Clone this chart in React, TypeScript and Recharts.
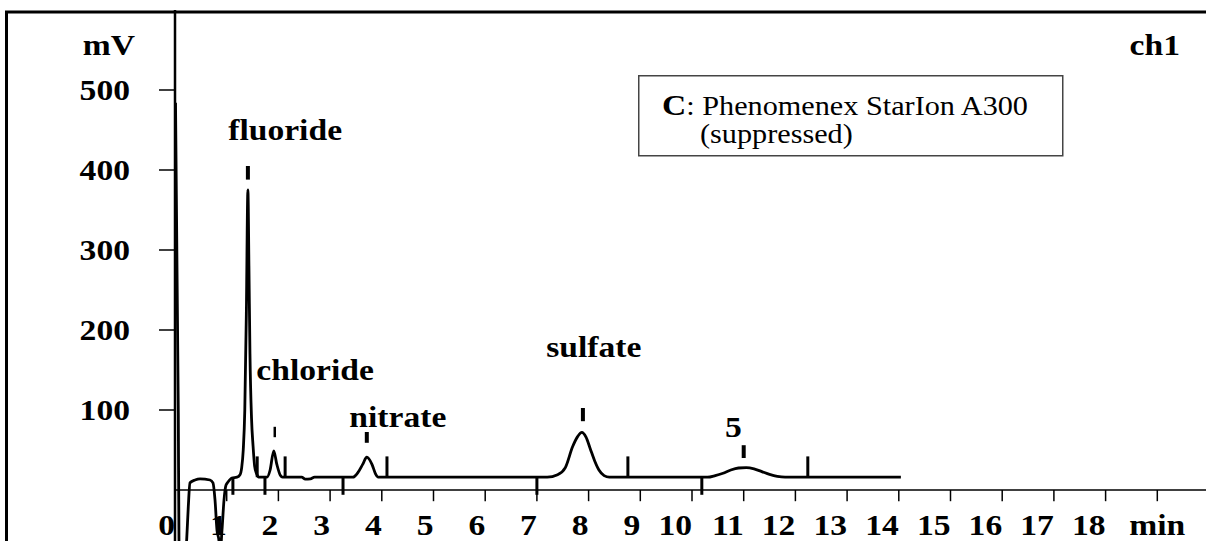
import { LineChart, Line, XAxis, YAxis, ReferenceLine, ReferenceDot } from "recharts";

const FONT = "'Liberation Serif', 'Times New Roman', Times, serif";
const SX = 1.12; // the scanned figure is a bit wider than tall

// ch1 trace: retention time (min) and detector signal (mV)
const times = [
  0.01, 0.064, 0.077, 0.12, 0.18, 0.226, 0.257, 0.29, 0.387, 0.484, 0.677, 0.735, 0.774, 0.812,
  0.851, 0.87, 0.909, 0.948, 0.986, 1.025, 1.1, 1.2, 1.257, 1.29, 1.32, 1.35, 1.38, 1.41, 1.43,
  1.45, 1.48, 1.51, 1.54, 1.58, 1.62, 1.78, 1.84, 1.91, 1.97, 2.04, 2.08, 2.45, 2.52, 2.62, 2.7,
  3.44, 3.54, 3.63, 3.71, 3.81, 3.88, 3.93, 7.2, 7.4, 7.55, 7.69, 7.79, 7.87, 7.95, 8.03, 8.12,
  8.2, 8.3, 8.4, 10.3, 10.45, 10.6, 10.75, 10.9, 11.05, 11.2, 11.35, 11.5, 11.65, 11.8, 14.04,
];
const signal = [
  484, 96, -64, -95, -95, -62, -21, 9, 12.5, 14, 12.5, 9, -12.5, -50, -64, -82, -50, -12.5, 6, 10,
  15, 16, 19, 28, 50, 100, 220, 375, 280, 170, 90, 55, 30, 20, 16, 16, 25, 49, 32, 18, 16, 16, 13.5,
  14, 16, 16, 22, 32, 41, 32, 20, 16, 16, 19, 28, 54, 67, 72, 66, 52, 36, 25, 18, 16, 16, 18, 21,
  25, 27.5, 28, 26.5, 23, 19.5, 17, 16, 16,
];

const xTicks = [0, 1, 2, 3, 4, 5, 6, 7, 8, 9, 10, 11, 12, 13, 14, 15, 16, 17, 18, 19];
const xTickLabels = ["0", "1", "2", "3", "4", "5", "6", "7", "8", "9", "10", "11", "12", "13", "14", "15", "16", "17", "18", "min"];
const yTicks = [100, 200, 300, 400, 500];

// peak annotations
const peakNames = ["fluoride", "chloride", "nitrate", "sulfate", "5"];
const peakTimes = [1.41, 1.93, 3.71, 7.89, 11.0];
const peakMarkTop = [405, 79, 72.5, 102.5, 56];
const peakMarkBottom = [388, 66, 59, 86, 40];
const peakLabelTimes = [2.13, 2.71, 4.31, 8.1, 10.8];
const peakLabelLevels = [437, 137, 79, 166, 66];

// integration start/end marks on the baseline
const cutTimes = [1.12, 1.59, 1.74, 2.13, 3.25, 4.1, 7.0, 8.76, 10.19, 12.24];
const cutEnds = [-6, 42, -6, 42, -6, 42, -6, 42, -6, 42];
const baselineLevel = 16;

const data = times.map((t, i) => ({ t, mv: signal[i] }));

function Stretch({ x, y, anchor, size, bold, children }: any) {
  return (
    <text
      transform={`translate(${x},${y}) scale(${SX},1)`}
      textAnchor={anchor}
      fontFamily={FONT}
      fontSize={size}
      fontWeight={bold ? 700 : 400}
      fill="#000"
    >
      {children}
    </text>
  );
}

function YTick({ x, y, payload }: any) {
  return (
    <Stretch x={x} y={y + 10} anchor="end" size={30} bold>
      {payload.value}
    </Stretch>
  );
}

export default function App() {
  return (
    <div
      style={{
        position: "absolute",
        left: 0,
        top: 0,
        width: 1206,
        height: 541,
        overflow: "hidden",
        background: "#fff",
      }}
    >
      <LineChart
        width={1215}
        height={575}
        data={data}
        margin={{ top: 10, right: 6, bottom: 5, left: 0 }}
      >
        <XAxis type="number" dataKey="t" domain={[0, 20]} hide />
        <YAxis
          type="number"
          domain={[-100, 600]}
          ticks={yTicks}
          width={175}
          tickSize={16}
          tickMargin={29}
          axisLine={{ stroke: "#000", strokeWidth: 2.5 }}
          tickLine={{ stroke: "#000", strokeWidth: 1.5 }}
          tick={<YTick />}
        />

        {/* time axis sits at 0 mV */}
        <ReferenceLine y={0} stroke="#000" strokeWidth={1.5} />
        {xTicks.map((t) => (
          <ReferenceLine
            key={`xt${t}`}
            segment={[{ x: t, y: 0 }, { x: t, y: -14 }]}
            stroke="#000"
            strokeWidth={1.5}
          />
        ))}
        {xTicks.map((t, i) => (
          <ReferenceDot
            key={`xl${t}`}
            x={t}
            y={-56}
            shape={(p: any) => (
              <Stretch
                x={p.cx}
                y={p.cy}
                anchor={xTickLabels[i] === "min" ? "middle" : "end"}
                size={30}
                bold
              >
                {xTickLabels[i]}
              </Stretch>
            )}
          />
        ))}

        {cutTimes.map((t, i) => (
          <ReferenceLine
            key={`c${i}`}
            segment={[{ x: t, y: baselineLevel }, { x: t, y: cutEnds[i] }]}
            stroke="#000"
            strokeWidth={3}
          />
        ))}

        <Line
          type="monotone"
          dataKey="mv"
          stroke="#000"
          strokeWidth={2.8}
          dot={false}
          isAnimationActive={false}
        />

        {peakNames.map((name, i) => (
          <ReferenceLine
            key={`pm${name}`}
            segment={[{ x: peakTimes[i], y: peakMarkBottom[i] }, { x: peakTimes[i], y: peakMarkTop[i] }]}
            stroke="#000"
            strokeWidth={name === "chloride" ? 2.5 : 4}
          />
        ))}
        {peakNames.map((name, i) => (
          <ReferenceDot
            key={`pl${name}`}
            x={peakLabelTimes[i]}
            y={peakLabelLevels[i]}
            shape={(p: any) => (
              <Stretch x={p.cx} y={p.cy} anchor="middle" size={30} bold>
                {name}
              </Stretch>
            )}
          />
        ))}
      </LineChart>

      <svg
        width={1206}
        height={541}
        style={{ position: "absolute", left: 0, top: 0, pointerEvents: "none" }}
      >
        <line x1={6.5} y1={11} x2={6.5} y2={541} stroke="#000" strokeWidth={3} />
        <line x1={5} y1={12} x2={1206} y2={12} stroke="#000" strokeWidth={3} />
        <Stretch x={135} y={55} anchor="end" size={30} bold>
          mV
        </Stretch>
        <Stretch x={1180} y={55} anchor="end" size={30} bold>
          ch1
        </Stretch>
        <rect x={638.75} y={75.75} width={424} height={80} fill="#fff" stroke="#444" strokeWidth={1.5} />
        <text transform={`translate(662,115) scale(${SX},1)`} fontFamily={FONT} fill="#000">
          <tspan fontSize={30} fontWeight={700}>C</tspan>
          <tspan fontSize={27}>: Phenomenex StarIon A300</tspan>
        </text>
        <Stretch x={700} y={143} anchor="start" size={27}>
          (suppressed)
        </Stretch>
      </svg>
    </div>
  );
}
